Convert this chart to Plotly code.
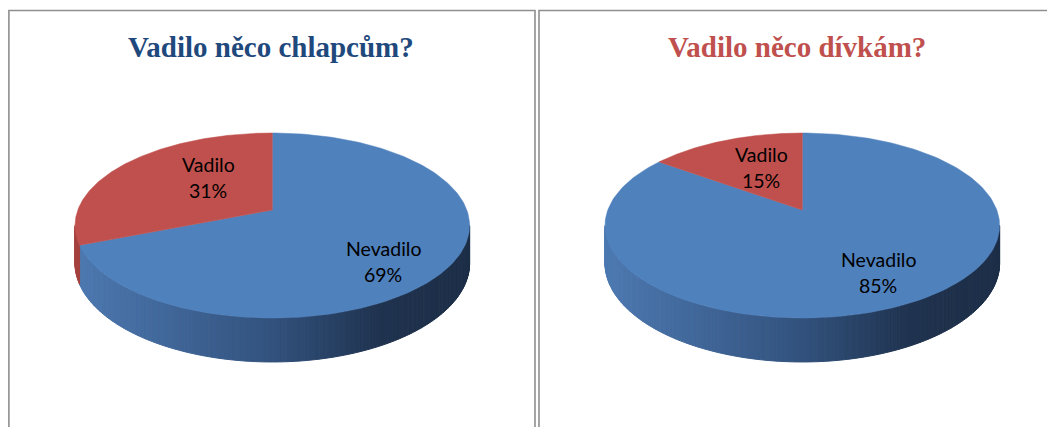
import numpy as np
import plotly.graph_objects as go

# ---------------- data ----------------
categories = ["Nevadilo", "Vadilo"]
boys_values = [69, 31]
girls_values = [85, 15]
chart_titles = ["Vadilo něco chlapcům?", "Vadilo něco dívkám?"]

# ---------------- styles / layout constants ----------------
W, H = 1055, 427
BODY = 8  # default page body margin
TOP_COLORS = ["#4F81BD", "#C0504D"]
TITLE_COLORS = ["#1F497D", "#C0504D"]
SIDE_STOPS = {
    "#4F81BD": [(0.0, (77, 121, 177)), (0.5, (50, 82, 125)), (0.78, (31, 50, 78)), (1.0, (30, 47, 72))],
    "#C0504D": [(0.0, (165, 66, 63)), (0.5, (120, 48, 46)), (0.78, (80, 32, 30)), (1.0, (75, 30, 28))],
}
PIE_CENTERS = [(272.3, 210.0), (802.3, 210.0)]
RX, RY, U, H0 = 194.5, 89.9, 0.1676, 36.6
PANEL_CENTERS = [271, 797]
TITLE_Y = 47
# label offsets (dx, dy) from pie centre, per slice [Nevadilo, Vadilo]
LABEL_OFFSETS = [[(111, 51), (-64, -33)], [(76, 62), (-41, -43)]]
LABEL_FONT = dict(family="Lato, Carlito, Liberation Sans, sans-serif", size=19.5, color="#000000")
LINE_GAP = 13


def proj(cx, cy, phi_deg, drop=0.0):
    p = np.radians(phi_deg)
    X, Z = np.sin(p), np.cos(p)
    w = 1 + U * Z
    return cx + RX * X / w, cy - RY * Z / w + drop * H0 / w


def lerp_color(stops, t):
    t = min(max(t, 0.0), 1.0)
    for (t0, c0), (t1, c1) in zip(stops[:-1], stops[1:]):
        if t <= t1:
            f = (t - t0) / (t1 - t0) if t1 > t0 else 0
            c = [round(a + (b - a) * f) for a, b in zip(c0, c1)]
            return "rgb(%d,%d,%d)" % tuple(c)
    return "rgb(%d,%d,%d)" % stops[-1][1]


fig = go.Figure()
annotations = []
xmax_scale = RX / np.sqrt(1 - U * U)

for k, values in enumerate([boys_values, girls_values]):
    cx, cy = PIE_CENTERS[k]
    total = float(sum(values))
    bounds = np.concatenate([[0.0], np.cumsum(values) / total * 360.0])

    def slice_of(phi):
        for i in range(len(values)):
            if bounds[i] <= phi <= bounds[i + 1]:
                return i
        return len(values) - 1

    # side wall (front visible part)
    phi_r = np.degrees(np.arccos(-U))
    phi_l = 360 - phi_r
    angles = list(np.linspace(phi_r, phi_l, 181))
    angles += [b for b in bounds if phi_r < b < phi_l]
    angles = sorted(set(angles))
    for a, b in zip(angles[:-1], angles[1:]):
        mid = 0.5 * (a + b)
        i = slice_of(mid)
        xa, ya = proj(cx, cy, a)
        xb, yb = proj(cx, cy, b)
        xa2, ya2 = proj(cx, cy, a, 1)
        xb2, yb2 = proj(cx, cy, b, 1)
        xm, _ = proj(cx, cy, mid)
        t = (xm - (cx - xmax_scale)) / (2 * xmax_scale)
        col = lerp_color(SIDE_STOPS[TOP_COLORS[i]], t)
        fig.add_trace(go.Scatter(
            x=[xa, xb, xb2, xa2, xa], y=[ya, yb, yb2, ya2, ya],
            mode="lines", fill="toself", fillcolor=col,
            line=dict(color=col, width=1), hoverinfo="skip"))

    # top face slices
    for i in range(len(values)):
        ph = np.linspace(bounds[i], bounds[i + 1], 200)
        xs, ys = proj(cx, cy, ph)
        px = np.concatenate([[cx], xs, [cx]])
        py = np.concatenate([[cy], ys, [cy]])
        fig.add_trace(go.Scatter(
            x=px, y=py, mode="lines", fill="toself", fillcolor=TOP_COLORS[i],
            line=dict(color=TOP_COLORS[i], width=0.5), hoverinfo="skip"))

        dx, dy = LABEL_OFFSETS[k][i]
        pct = round(values[i] / total * 100)
        annotations.append(dict(x=cx + dx, y=cy + dy - LINE_GAP, text=categories[i],
                                showarrow=False, font=LABEL_FONT, xref="x", yref="y"))
        annotations.append(dict(x=cx + dx, y=cy + dy + LINE_GAP, text=f"{pct}%",
                                showarrow=False, font=LABEL_FONT, xref="x", yref="y"))

    annotations.append(dict(
        x=PANEL_CENTERS[k], y=TITLE_Y, text=f"<b>{chart_titles[k]}</b>", showarrow=False,
        xref="x", yref="y",
        font=dict(family="Liberation Serif, Times New Roman, serif", size=29, color=TITLE_COLORS[k])))

shapes = [
    dict(type="rect", xref="x", yref="y", x0=8.9, y0=10.5, x1=535, y1=470,
         line=dict(color="#8f8f8f", width=1.6), layer="below"),
    dict(type="rect", xref="x", yref="y", x0=539, y0=10.5, x1=1080, y1=470,
         line=dict(color="#8f8f8f", width=1.6), layer="below"),
]

fig.update_layout(
    width=W - BODY, height=H - BODY, margin=dict(l=0, r=0, t=0, b=0),
    paper_bgcolor="white", plot_bgcolor="white", showlegend=False,
    xaxis=dict(range=[BODY, W], visible=False, fixedrange=True),
    yaxis=dict(range=[H, BODY], visible=False, fixedrange=True),
    annotations=annotations, shapes=shapes,
)

fig.write_html("out.html")
